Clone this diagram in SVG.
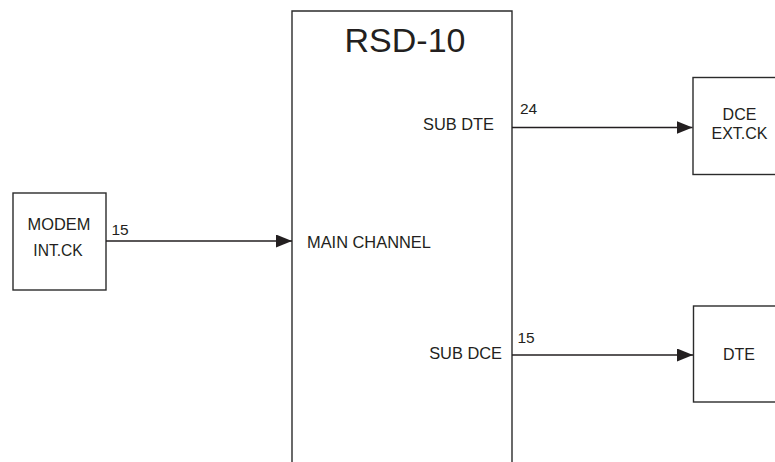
<svg xmlns="http://www.w3.org/2000/svg" width="775" height="462" viewBox="0 0 775 462">
<defs>
<style>
.box{fill:#fff;stroke:#2b2b2b;stroke-width:1.4}
.ln{fill:none;stroke:#231f20;stroke-width:1.3}
text{font-family:"Liberation Sans",Arial,sans-serif;fill:#231f20;font-size:16px}
.mid{text-anchor:middle}
.end{text-anchor:end}
</style>
<marker id="ah" markerWidth="16" markerHeight="13" refX="16" refY="6.5" orient="auto" markerUnits="userSpaceOnUse">
<path d="M0,0 L16,6.5 L0,13 Z" fill="#231f20"/>
</marker>
</defs>
<rect width="775" height="462" fill="#fff"/>
<g id="rsd10">
<path class="box" d="M292,470 L292,11 L512,11 L512,470"/>
<text class="mid" x="405" y="52" style="font-size:34px">RSD-10</text>
<text x="307" y="248" style="font-size:16.4px">MAIN CHANNEL</text>
<text class="end" x="494" y="130" style="font-size:16.4px">SUB DTE</text>
<text class="end" x="502" y="359" style="font-size:16.4px">SUB DCE</text>
</g>
<g id="modem">
<rect class="box" x="13" y="193" width="93" height="97"/>
<text class="mid" x="59" y="229.5" style="font-size:16.4px">MODEM</text>
<text class="mid" x="58" y="256" style="font-size:15.6px">INT.CK</text>
</g>
<g id="dce">
<rect class="box" x="693" y="77.5" width="100" height="97"/>
<text class="mid" x="739.5" y="120">DCE</text>
<text class="mid" x="739.5" y="138.5">EXT.CK</text>
</g>
<g id="dte">
<rect class="box" x="693.5" y="306" width="100" height="96"/>
<text class="mid" x="739" y="360">DTE</text>
</g>
<g id="connectors">
<line class="ln" x1="106" y1="241" x2="292" y2="241" marker-end="url(#ah)"/>
<line class="ln" x1="512" y1="127.5" x2="692.5" y2="127.5" marker-end="url(#ah)"/>
<line class="ln" x1="512" y1="355" x2="693" y2="355" marker-end="url(#ah)"/>
<text x="111.5" y="234.5" style="font-size:15.5px">15</text>
<text x="520" y="114" style="font-size:15.5px">24</text>
<text x="517.5" y="342.5" style="font-size:15.5px">15</text>
</g>
</svg>
